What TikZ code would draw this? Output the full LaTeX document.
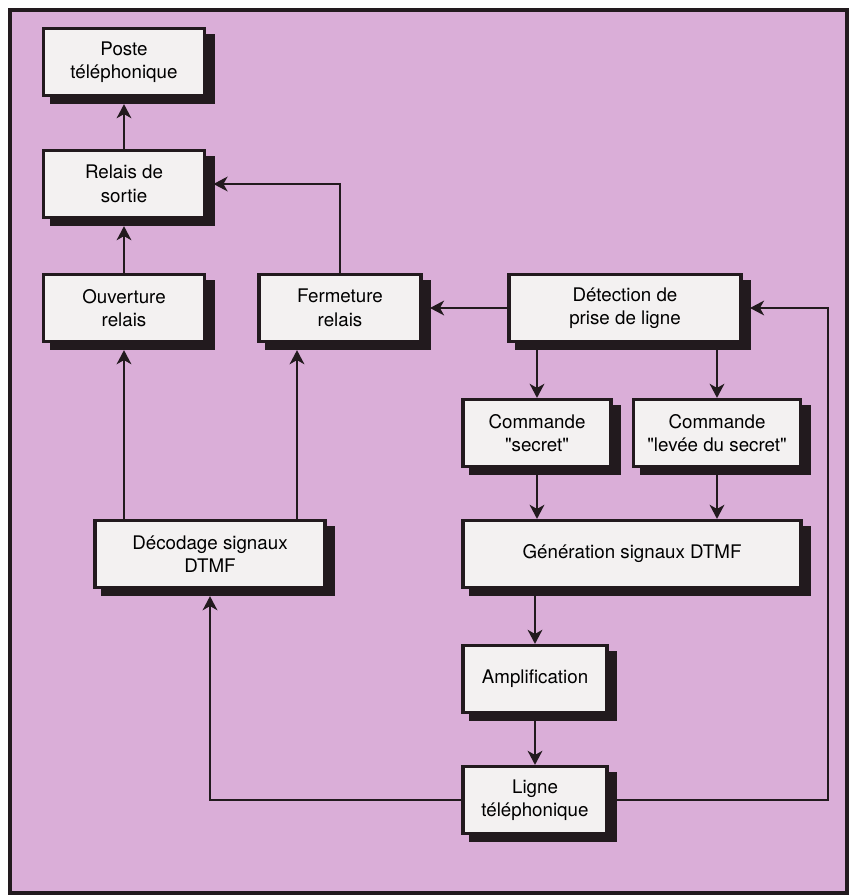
\documentclass[tikz,border=0pt]{standalone}
\usepackage{fontspec}
\setmainfont{TeX Gyre Heros}
\usepackage{xcolor}
\usetikzlibrary{positioning, arrows.meta, calc}
\definecolor{panelpink}{HTML}{DAAED8}
\definecolor{boxfill}{HTML}{F3F1F1}
\definecolor{inkdark}{HTML}{221A1E}

\begin{document}
\begin{tikzpicture}[x=0.03cm, y=-0.03cm,
    block/.style={draw=inkdark, line width=3pt, fill=boxfill, align=center,
      inner sep=0pt, minimum height=2.0cm,
      font=\fontsize{16}{20}\selectfont,
      preaction={fill=inkdark, draw=inkdark, line width=3pt,
        transform canvas={xshift=0.25cm, yshift=-0.2cm}}},
    link/.style={draw=inkdark, line width=2.3pt,
      -{Stealth[length=12pt, width=12.5pt, inset=3.5pt]}},
    shadowend/.style={shorten >=6pt}]

  \useasboundingbox (0,0) rectangle (849,896);
  \fill[white] (0,0) rectangle (849,896);
  \draw[line width=0.12cm, draw=inkdark, fill=panelpink] (10,10) rectangle (847,893);

  \node[block, minimum width=4.84cm] (poste)  at (124,62)  {Poste\\téléphonique};
  \node[block, minimum width=4.84cm] (relais) at (124,184) {Relais de\\sortie};
  \node[block, minimum width=4.84cm] (ouv)    at (124,308) {Ouverture\\relais};
  \node[block, minimum width=4.87cm] (ferm)   at (340,308) {Fermeture\\relais};
  \node[block, minimum width=6.97cm] (detect) at (625,308) {Détection de\\prise de ligne};
  \node[block, minimum width=4.45cm] (cmdsec) at (537,433) {Commande\\\textquotedbl secret\textquotedbl};
  \node[block, minimum width=5.02cm] (cmdlev) at (717,433) {Commande\\\textquotedbl levée du secret\textquotedbl};
  \node[block, minimum width=10.15cm] (gen)   at (632,554) {Génération signaux DTMF};
  \node[block, minimum width=6.91cm] (decod)  at (210,554) {Décodage signaux\\DTMF};
  \node[block, minimum width=4.33cm] (ampli)  at (535,679) {Amplification};
  \node[block, minimum width=4.33cm] (ligne)  at (535,800) {Ligne\\téléphonique};

  \coordinate (fermin) at ($(ferm.south)+(-43,0)$);
  \coordinate (loopr)  at (828,308);

  % relay side
  \draw[link, shadowend] (relais) -- (poste);
  \draw[link, shadowend] (ouv) -- (relais);
  \draw[link, shadowend] (ferm.north) |- (relais.east);
  \draw[link, shadowend] (detect.west) -- (ferm.east);
  \draw[link, shadowend] (decod.north -| ouv.south) -- (ouv.south);
  \draw[link, shadowend] (decod.north -| fermin) -- (fermin);

  % generation side
  \draw[link] (detect.south -| cmdsec.north) -- (cmdsec.north);
  \draw[link] (detect.south -| cmdlev.north) -- (cmdlev.north);
  \draw[link] (cmdsec.south) -- (cmdsec.south |- gen.north);
  \draw[link] (cmdlev.south) -- (cmdlev.south |- gen.north);
  \draw[link] (gen.south -| ampli.north) -- (ampli.north);
  \draw[link] (ampli) -- (ligne);

  % line loops
  \draw[link, shadowend] (ligne.west) -| (decod.south);
  \draw[link, shadowend] (ligne.east) -| (loopr) -- (detect.east);
\end{tikzpicture}
\end{document}
